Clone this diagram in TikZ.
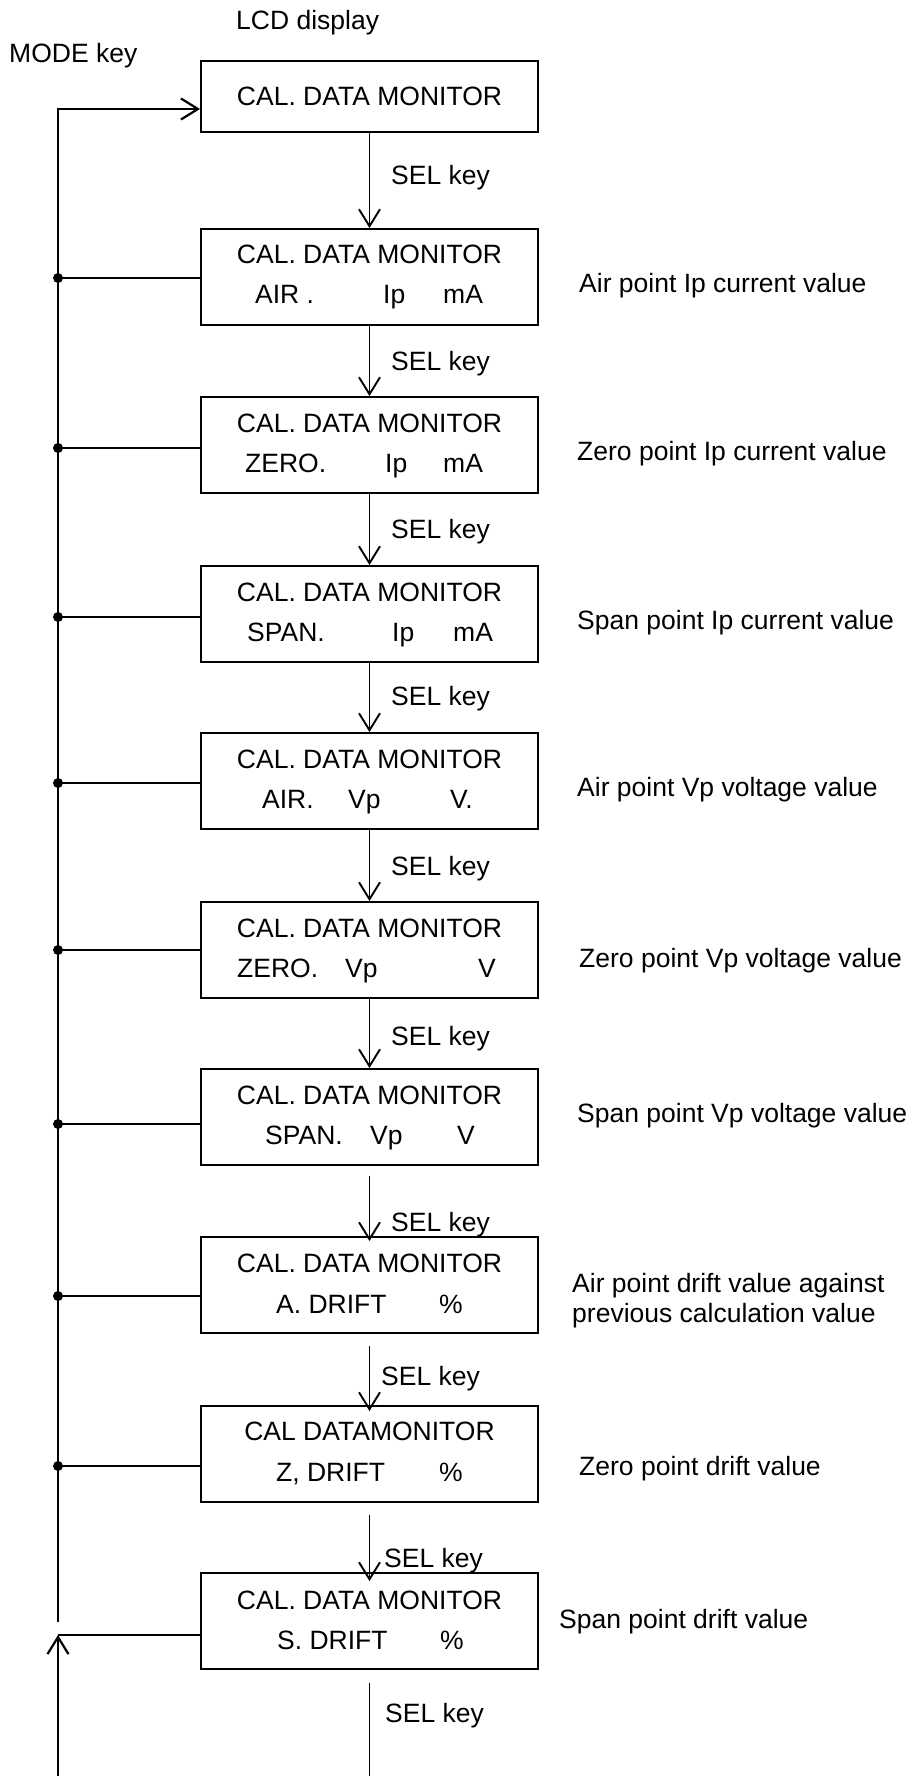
\documentclass[tikz,border=0pt]{standalone}
\usepackage{fontspec}
\setmainfont{Liberation Sans}
\usetikzlibrary{positioning,arrows.meta,calc}

\begin{document}
\begin{tikzpicture}[
  x=1pt, y=-1pt,
  lcd/.style={draw, line width=1.9pt, minimum width=337pt, minimum height=96pt, inner sep=0pt},
  txt/.style={anchor=base west, inner sep=0pt, font=\fontsize{26.5}{30}\selectfont},
  mid/.style={anchor=base, inner sep=0pt, font=\fontsize{26.5}{30}\selectfont},
  sel/.style={line width=1.9pt, -{Straight Barb[length=17pt,width=21pt]}},
  wire/.style={line width=1.9pt}
]
  \useasboundingbox (0,0) rectangle (912,1776);

  \node[txt] (lcd) at (236,30) {LCD display};
  \node[txt] (mode) at (9,63) {MODE key};

  % LCD screens
  \node[lcd, minimum height=71pt] (b1) at (369.5,96.5) {};
  \node[mid] (b1-l1) at (369.5,106) {CAL. DATA MONITOR};

  \node[lcd] (b2) at (369.5,277) {};
  \node[mid] (b2-l1) at (369.5,264) {CAL. DATA MONITOR};
  \node[txt] (b2-a) at (255,304) {AIR .};
  \node[txt] (b2-b) at (383,304) {Ip};
  \node[txt] (b2-c) at (443,304) {mA};

  \node[lcd] (b3) at (369.5,445) {};
  \node[mid] (b3-l1) at (369.5,432) {CAL. DATA MONITOR};
  \node[txt] (b3-a) at (245,472) {ZERO.};
  \node[txt] (b3-b) at (385,472) {Ip};
  \node[txt] (b3-c) at (443,472) {mA};

  \node[lcd] (b4) at (369.5,614) {};
  \node[mid] (b4-l1) at (369.5,601) {CAL. DATA MONITOR};
  \node[txt] (b4-a) at (247,641) {SPAN.};
  \node[txt] (b4-b) at (392,641) {Ip};
  \node[txt] (b4-c) at (453,641) {mA};

  \node[lcd] (b5) at (369.5,781) {};
  \node[mid] (b5-l1) at (369.5,768) {CAL. DATA MONITOR};
  \node[txt] (b5-a) at (262,808) {AIR.};
  \node[txt] (b5-b) at (348,808) {Vp};
  \node[txt] (b5-c) at (450,808) {V.};

  \node[lcd] (b6) at (369.5,950) {};
  \node[mid] (b6-l1) at (369.5,937) {CAL. DATA MONITOR};
  \node[txt] (b6-a) at (237,977) {ZERO.};
  \node[txt] (b6-b) at (345,977) {Vp};
  \node[txt] (b6-c) at (478,977) {V};

  \node[lcd] (b7) at (369.5,1117) {};
  \node[mid] (b7-l1) at (369.5,1104) {CAL. DATA MONITOR};
  \node[txt] (b7-a) at (265,1144) {SPAN.};
  \node[txt] (b7-b) at (370,1144) {Vp};
  \node[txt] (b7-c) at (457,1144) {V};

  \node[lcd] (b8) at (369.5,1285) {};
  \node[mid] (b8-l1) at (369.5,1272) {CAL. DATA MONITOR};
  \node[txt] (b8-a) at (276,1313) {A. DRIFT};
  \node[txt] (b8-b) at (439,1313) {\%};

  \node[lcd] (b9) at (369.5,1454) {};
  \node[mid] (b9-l1) at (369.5,1440) {CAL DATAMONITOR};
  \node[txt] (b9-a) at (276,1481) {Z, DRIFT};
  \node[txt] (b9-b) at (439,1481) {\%};

  \node[lcd] (b10) at (369.5,1621) {};
  \node[mid] (b10-l1) at (369.5,1609) {CAL. DATA MONITOR};
  \node[txt] (b10-a) at (277,1649) {S. DRIFT};
  \node[txt] (b10-b) at (440,1649) {\%};

  % meaning of each screen
  \node[txt] (m2) at (579,293) {Air point Ip current value};
  \node[txt] (m3) at (577,460) {Zero point Ip current value};
  \node[txt] (m4) at (577,629) {Span point Ip current value};
  \node[txt] (m5) at (577,796) {Air point Vp voltage value};
  \node[txt] (m6) at (579,967) {Zero point Vp voltage value};
  \node[txt] (m7) at (577,1122) {Span point Vp voltage value};
  \node[txt] (m8) at (572,1292) {Air point drift value against};
  \node[txt] (m8b) at (572,1322) {previous calculation value};
  \node[txt] (m9) at (579,1475) {Zero point drift value};
  \node[txt] (m10) at (559,1628) {Span point drift value};

  % SEL key steps
  \draw[sel] (b1) -- (b2);
  \draw[sel] (b2) -- (b3);
  \draw[sel] (b3) -- (b4);
  \draw[sel] (b4) -- (b5);
  \draw[sel] (b5) -- (b6);
  \draw[sel] (b6) -- (b7);
  \draw[sel] ([yshift=-10pt]b7.south) -- ([yshift=-5pt]b8.north);
  \draw[sel] ([yshift=-12pt]b8.south) -- ([yshift=-6pt]b9.north);
  \draw[sel] ([yshift=-12pt]b9.south) -- ([yshift=-9pt]b10.north);
  \coordinate (sel-out) at (369.5,1776);
  \draw[wire] ([yshift=-13pt]b10.south) -- (sel-out);

  \node[txt] (s1) at (391,185) {SEL key};
  \node[txt] (s2) at (391,370) {SEL key};
  \node[txt] (s3) at (391,538) {SEL key};
  \node[txt] (s4) at (391,705) {SEL key};
  \node[txt] (s5) at (391,875) {SEL key};
  \node[txt] (s6) at (391,1045) {SEL key};
  \node[txt] (s7) at (391,1231) {SEL key};
  \node[txt] (s8) at (381,1385) {SEL key};
  \node[txt] (s9) at (384,1567) {SEL key};
  \node[txt] (s10) at (385,1722) {SEL key};

  % MODE key return line
  \coordinate (j1) at (58,109);
  \coordinate (j2) at (58,278);
  \coordinate (j3) at (58,448);
  \coordinate (j4) at (58,617);
  \coordinate (j5) at (58,783);
  \coordinate (j6) at (58,950);
  \coordinate (j7) at (58,1124);
  \coordinate (j8) at (58,1296);
  \coordinate (j9) at (58,1466);
  \coordinate (j10) at (58,1635);
  \coordinate (trunk-end) at (58,1622);
  \coordinate (mode-in) at (58,1776);

  \draw[sel, line width=2.2pt] (trunk-end) -- (j1) -- (j1 -| b1.west);
  \draw[wire] (j2) -- (j2 -| b2.west);
  \draw[wire] (j3) -- (j3 -| b3.west);
  \draw[wire] (j4) -- (j4 -| b4.west);
  \draw[wire] (j5) -- (j5 -| b5.west);
  \draw[wire] (j6) -- (j6 -| b6.west);
  \draw[wire] (j7) -- (j7 -| b7.west);
  \draw[wire] (j8) -- (j8 -| b8.west);
  \draw[wire] (j9) -- (j9 -| b9.west);
  \draw[wire] (j10) -- (j10 -| b10.west);
  \draw[sel, line width=2.2pt] (mode-in) -- (j10);

  \fill (j2) circle (5pt);
  \fill (j3) circle (5pt);
  \fill (j4) circle (5pt);
  \fill (j5) circle (5pt);
  \fill (j6) circle (5pt);
  \fill (j7) circle (5pt);
  \fill (j8) circle (5pt);
  \fill (j9) circle (5pt);
\end{tikzpicture}
\end{document}
